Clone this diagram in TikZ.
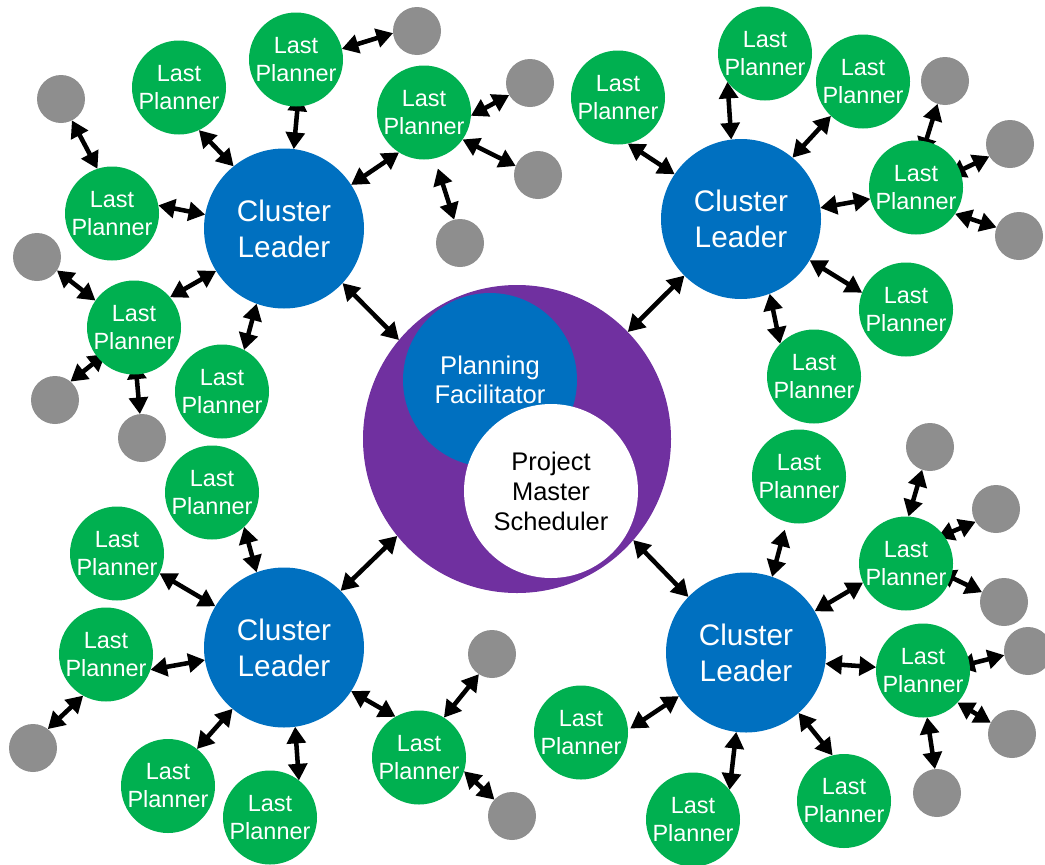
\documentclass[tikz,border=0pt]{standalone}
\usepackage{fontspec}
\setmainfont{Liberation Sans}
\usetikzlibrary{arrows.meta,backgrounds}
\definecolor{lpgreen}{HTML}{00B050}
\definecolor{clblue}{HTML}{0070C0}
\definecolor{pfpurple}{HTML}{7030A0}
\definecolor{dotgray}{HTML}{8E8E8E}
\tikzset{
  circ/.style={circle,draw=none,outer sep=0pt,align=center},
  lp/.style={circ,fill=lpgreen,text=white,minimum size=70.5pt,inner sep=-6pt,font=\fontsize{17.6}{21}\selectfont},
  cl/.style={circ,fill=clblue,text=white,minimum size=120pt,inner sep=0pt,font=\fontsize{22.3}{27}\selectfont},
  dot/.style={circ,fill=dotgray,minimum size=36pt,inner sep=0pt},
  conn/.style={{Triangle[length=12.5pt,width=14pt]}-{Triangle[length=12.5pt,width=14pt]},line width=3.4pt,black},
}
\begin{document}
\begin{tikzpicture}[x=0.75pt,y=-0.75pt]
\useasboundingbox (0,0) rectangle (1045,864);
% centre
\node[circ,fill=pfpurple,minimum size=231pt,inner sep=0pt] (pm) at (517,439) {};
\node[circ,fill=clblue,text=white,minimum size=130.5pt,inner sep=0pt,font=\fontsize{19.2}{21.5}\selectfont] (pf) at (490,380) {Planning\\Facilitator};
\node[circ,fill=white,text=black,minimum size=130.5pt,inner sep=0pt,font=\fontsize{19.1}{22.5}\selectfont] (ms) at (551,491) {Project\\Master\\Scheduler};
% cluster leaders
\node[cl] (tl) at (284,228.5) {Cluster\\Leader};
\node[cl] (tr) at (741,219) {Cluster\\Leader};
\node[cl] (bl) at (284,647.5) {Cluster\\Leader};
\node[cl] (br) at (746,652.5) {Cluster\\Leader};
% top left
\node[lp] (a1) at (179,87.5) {Last\\Planner};
\node[lp] (a2) at (296,59.5) {Last\\Planner};
\node[lp] (a3) at (424,112.5) {Last\\Planner};
\node[lp] (a4) at (112,213.5) {Last\\Planner};
\node[lp] (a5) at (134,327.5) {Last\\Planner};
\node[lp] (a6) at (222,391.5) {Last\\Planner};
\node[dot] (ad1) at (417,31) {};
\node[dot] (ad2) at (530,83) {};
\node[dot] (ad3) at (538,175) {};
\node[dot] (ad4) at (460,243) {};
\node[dot] (ad5) at (61,99) {};
\node[dot] (ad6) at (37,257) {};
\node[dot] (ad7) at (55,400) {};
\node[dot] (ad8) at (142,438) {};
% top right
\node[lp] (b1) at (618,97.5) {Last\\Planner};
\node[lp] (b2) at (765,53.5) {Last\\Planner};
\node[lp] (b3) at (863,81.5) {Last\\Planner};
\node[lp] (b4) at (916,187.5) {Last\\Planner};
\node[lp] (b5) at (906,309.5) {Last\\Planner};
\node[lp] (b6) at (814,376.5) {Last\\Planner};
\node[dot] (bd1) at (945,81) {};
\node[dot] (bd2) at (1010,144) {};
\node[dot] (bd3) at (1019,236) {};
% bottom left
\node[lp] (c1) at (212,492.5) {Last\\Planner};
\node[lp] (c2) at (117,553.5) {Last\\Planner};
\node[lp] (c3) at (106,654.5) {Last\\Planner};
\node[lp] (c4) at (168,786) {Last\\Planner};
\node[lp] (c5) at (270,817.5) {Last\\Planner};
\node[lp] (c6) at (419,757.5) {Last\\Planner};
\node[dot] (cd1) at (33,748) {};
\node[dot] (cd2) at (492,654) {};
\node[dot] (cd3) at (512,816) {};
% bottom right
\node[lp] (d1) at (799,476.5) {Last\\Planner};
\node[lp] (d2) at (906,563.5) {Last\\Planner};
\node[lp] (d3) at (923,670.5) {Last\\Planner};
\node[lp] (d4) at (844,801) {Last\\Planner};
\node[lp] (d5) at (693,819.5) {Last\\Planner};
\node[lp] (d6) at (581,732.5) {Last\\Planner};
\node[dot] (dd1) at (930,447) {};
\node[dot] (dd2) at (996,509) {};
\node[dot] (dd3) at (1004,602) {};
\node[dot] (dd4) at (1028,651) {};
\node[dot] (dd5) at (1012,734) {};
\node[dot] (dd6) at (937,793) {};
\begin{pgfonlayer}{background}
% top left
\draw[conn] (tl.129) -- (a1.-65);
\draw[conn,shorten >=-9pt] (tl.83) -- (a2.-88);
\draw[conn] (tl.33) -- (a3.238);
\draw[conn] (tl.170) -- (a4.10);
\draw[conn] (tl.212) -- (a5.40);
\draw[conn] (tl.250) -- (a6.62);
\draw[conn] (tl.-43.5) -- (pm.140);
\draw[conn] (a2.13) -- (ad1.185);
\draw[conn] (a3.-4) -- (ad2.210);
\draw[conn] (a3.-35) -- (ad3.158);
\draw[conn,shorten <=8pt] (a3.-77) -- (ad4.104);
\draw[conn] (a5.145) -- (ad6.-34);
\draw[conn,shorten <=-6pt] (a5.222) -- (ad7.50);
\draw[conn,shorten <=-9pt] (a5.-87) -- (ad8.95);
\draw[conn] (a4.108) -- (ad5.-63);
% top right
\draw[conn] (tr.146) -- (b1.-78);
\draw[conn] (tr.97) -- (b2.217);
\draw[conn] (tr.50) -- (b3.227);
\draw[conn] (tr.8) -- (b4.194);
\draw[conn] (tr.-31) -- (b5.159);
\draw[conn] (tr.-69) -- (b6.136);
\draw[conn] (tr.225.5) -- (pm.44);
\draw[conn,shorten <=-10pt] (b4.78) -- (bd1.252);
\draw[conn,shorten <=-9pt] (b4.21) -- (bd2.211);
\draw[conn] (b4.-34) -- (bd3.159);
% bottom left
\draw[conn] (bl.110) -- (c1.-47);
\draw[conn] (bl.149) -- (c2.-25.6);
\draw[conn] (bl.189) -- (c3.-19);
\draw[conn] (bl.230.5) -- (c4.52);
\draw[conn] (bl.-82) -- (c5.52);
\draw[conn] (bl.-33) -- (c6.120);
\draw[conn] (bl.45) -- (pm.219.5);
\draw[conn] (c3.241) -- (cd1.52);
\draw[conn] (c6.58.7) -- (cd2.237);
\draw[conn] (c6.-17) -- (cd3.137);
% bottom right
\draw[conn,shorten >=6pt] (br.71) -- (d1.255);
\draw[conn] (pm.-41) -- (br.136);
\draw[conn] (br.31) -- (d2.204.5);
\draw[conn] (br.-8.5) -- (d3.176);
\draw[conn] (br.-49.5) -- (d4.104);
\draw[conn] (br.263) -- (d5.39);
\draw[conn,shorten >=2pt] (br.213.7) -- (d6.3);
\draw[conn] (d2.87.5) -- (dd1.251);
\draw[conn,shorten <=-5pt] (d2.37) -- (dd2.212);
\draw[conn,shorten <=-10pt] (d2.-17.6) -- (dd3.156);
\draw[conn,shorten <=-9pt] (d3.8.7) -- (dd4.190);
\draw[conn] (d3.-43) -- (dd5.152);
\draw[conn] (d3.-85) -- (dd6.95);
\end{pgfonlayer}
\end{tikzpicture}
\end{document}
